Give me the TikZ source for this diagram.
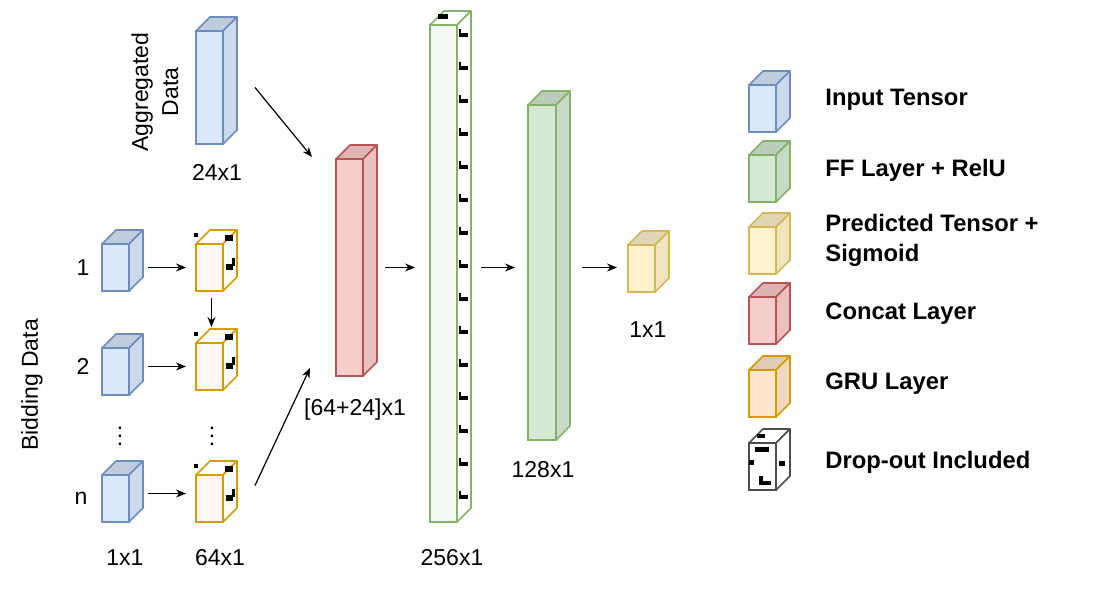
\documentclass[tikz,border=0pt]{standalone}
\usepackage{fontspec}
\setmainfont{Liberation Sans}
\usetikzlibrary{arrows.meta}
\definecolor{InBlue}{HTML}{DAE8FC}
\definecolor{InBlueLine}{HTML}{6C8EBF}
\definecolor{FFGreen}{HTML}{D5E8D4}
\definecolor{FFGreenLine}{HTML}{82B366}
\definecolor{PredYellow}{HTML}{FFF2CC}
\definecolor{PredYellowLine}{HTML}{D6B656}
\definecolor{CatRed}{HTML}{F8CECC}
\definecolor{CatRedLine}{HTML}{B85450}
\definecolor{GruOrange}{HTML}{FFE6CC}
\definecolor{GruOrangeLine}{HTML}{D79B00}
\definecolor{DropGray}{HTML}{4D4D4D}

% top and side faces of a cube drawn on the front face node
\newcommand{\cubefaces}[4]{%
  \draw[draw=#4, fill=#2, line width=0.8pt, line join=round]
    (#1.north west) -- ([shift={(14,-14)}]#1.north west) -- ([shift={(14,-14)}]#1.north east) -- (#1.north east) -- cycle;
  \draw[draw=#4, fill=#3, line width=0.8pt, line join=round]
    (#1.north east) -- ([shift={(14,-14)}]#1.north east) -- ([shift={(14,-14)}]#1.south east) -- (#1.south east) -- cycle;
}

\begin{document}
\begin{tikzpicture}[x=0.5pt, y=-0.5pt,
    font=\fontsize{11.5}{15}\selectfont,
    layer/.style={draw, line width=0.8pt, inner sep=0pt, outer sep=0pt, anchor=north west, minimum width=13.5pt},
    small/.style={layer, minimum height=23.5pt},
    inputT/.style={layer, draw=InBlueLine, fill=InBlue},
    ffT/.style={layer, draw=FFGreenLine, fill=FFGreen},
    predT/.style={layer, draw=PredYellowLine, fill=PredYellow},
    catT/.style={layer, draw=CatRedLine, fill=CatRed},
    gruT/.style={layer, draw=GruOrangeLine, fill=GruOrange},
    dropT/.style={layer, draw=DropGray, fill=white},
    lbl/.style={inner sep=1pt},
    legtext/.style={anchor=west, inner sep=0pt, font=\fontsize{11.9}{15}\selectfont\bfseries, align=left},
    conn/.style={-{Stealth[length=5pt, width=4pt]}, line width=0.6pt, black}
  ]
  \useasboundingbox (0,0) rectangle (1100,600);

  % Aggregated data
  \node[inputT, minimum height=56.5pt] (agg) at (196,31) {};
  \cubefaces{agg}{InBlue!88!black}{InBlue!94!black}{InBlueLine}
  \node[lbl] (aggtxt) at (155,92) [rotate=90, align=center] {Aggregated\\Data};
  \node[lbl] (agglbl) at (217,172) {24x1};

  % Bidding data inputs
  \node[inputT, small] (in1) at (102,244) {};
  \node[inputT, small] (in2) at (102,348) {};
  \node[inputT, small] (inn) at (102,475) {};
  \foreach \n in {in1,in2,inn} {
    \cubefaces{\n}{InBlue!88!black}{InBlue!94!black}{InBlueLine}
  }
  \node[lbl] (row1) at (83,268) {1};
  \node[lbl] (row2) at (83,366) {2};
  \node[lbl] (rown) at (81,498) {n};
  \node[lbl] (dotsin) at (120,430) {$\vdots$};
  \node[lbl] (bidtxt) at (32,385) [rotate=90] {Bidding Data};
  \node[lbl] (inlbl) at (125,558) {1x1};

  % GRU layer with drop-out
  \node[gruT, small, fill=GruOrange!30!white] (gru1) at (196,244) {};
  \node[gruT, small, fill=GruOrange!30!white] (gru2) at (196,343) {};
  \node[gruT, small, fill=GruOrange!30!white] (grun) at (196,475) {};
  \foreach \g in {gru1,gru2,grun} {
    \cubefaces{\g}{white}{white}{GruOrangeLine}
    \fill[black] ([shift={(-2,-7)}]\g.north west) rectangle ++(4,-4);
    \fill[black] ([shift={(2,-3)}]\g.north east) rectangle ++(8,-6);
    \fill[black] ([shift={(3,20)}]\g.north east) rectangle ++(7,6);
    \fill[black] ([shift={(9,14)}]\g.north east) rectangle ++(3,8);
  }
  \node[lbl] (dotsgru) at (212,430) {$\vdots$};
  \node[lbl] (grulbl) at (220,558) {64x1};

  % Concat layer
  \node[catT, minimum height=108.5pt] (concat) at (336,159) {};
  \cubefaces{concat}{CatRed!88!black}{CatRed!94!black}{CatRedLine}
  \node[lbl] (catlbl) at (355,410) {[64+24]x1};

  % FF layer 256 with drop-out
  \node[ffT, minimum height=248.5pt, fill=FFGreen!25!white] (ff256) at (430,25) {};
  \cubefaces{ff256}{white}{white}{FFGreenLine}
  \fill[black] ([shift={(8,-11)}]ff256.north west) rectangle ++(10,5);
  \foreach \k in {0,...,14} {
    \fill[black] ([shift={(2,12+33*\k)}]ff256.north east) rectangle ++(2,-8);
    \fill[black] ([shift={(2,12+33*\k)}]ff256.north east) rectangle ++(9,-4);
  }
  \node[lbl] (ff256lbl) at (452,558) {256x1};

  % FF layer 128
  \node[ffT, minimum height=167.5pt, minimum width=14pt] (ff128) at (528,105) {};
  \cubefaces{ff128}{FFGreen!88!black}{FFGreen!94!black}{FFGreenLine}
  \node[lbl] (ff128lbl) at (543,470) {128x1};

  % Output
  \node[predT, small] (out) at (628,245) {};
  \cubefaces{out}{PredYellow!88!black}{PredYellow!94!black}{PredYellowLine}
  \node[lbl] (outlbl) at (648,330) {1x1};

  % Connections
  \draw[conn] ([xshift=9.5pt]in1.east) -- ([xshift=-5pt]gru1.west);
  \draw[conn] ([shift={(19,-5)}]in2.east) -- ([shift={(-10,0)}]gru2.west);
  \draw[conn] ([shift={(19,-5)}]inn.east) -- ([shift={(-10,-5)}]grun.west);
  \draw[conn] ([shift={(2,7)}]gru1.south) -- ([shift={(2,-16)}]gru2.north);
  \draw[conn] ([xshift=16pt]agg.east) -- ([shift={(-24,-2)}]concat.north west);
  \draw[conn] ([shift={(32,-13)}]grun.east) -- ([shift={(-26,-8)}]concat.south west);
  \draw[conn] ([xshift=11pt]concat.east) -- ([shift={(-15,-6)}]ff256.west);
  \draw[conn] ([shift={(24,-6)}]ff256.east) -- ([shift={(-13,-5)}]ff128.west);
  \draw[conn] ([shift={(26,-5)}]ff128.east) -- ([shift={(-11,-1)}]out.west);

  % Legend
  \node[inputT, small] (leg1) at (749,85) {};
  \cubefaces{leg1}{InBlue!88!black}{InBlue!94!black}{InBlueLine}
  \node[ffT, small] (leg2) at (749,155) {};
  \cubefaces{leg2}{FFGreen!88!black}{FFGreen!94!black}{FFGreenLine}
  \node[predT, small] (leg3) at (749,227) {};
  \cubefaces{leg3}{PredYellow!88!black}{PredYellow!94!black}{PredYellowLine}
  \node[catT, small] (leg4) at (749,297) {};
  \cubefaces{leg4}{CatRed!88!black}{CatRed!94!black}{CatRedLine}
  \node[gruT, small] (leg5) at (749,370) {};
  \cubefaces{leg5}{GruOrange!88!black}{GruOrange!94!black}{GruOrangeLine}
  \node[dropT, small] (leg6) at (749,443) {};
  \cubefaces{leg6}{white}{white}{DropGray}
  \fill[black] ([shift={(6,4)}]leg6.north west) rectangle ++(14,5);
  \fill[black] ([shift={(0,17)}]leg6.north west) rectangle ++(5,5);
  \fill[black] ([shift={(10,33)}]leg6.north west) rectangle ++(4,9);
  \fill[black] ([shift={(10,38)}]leg6.north west) rectangle ++(12,4);
  \fill[black] ([shift={(3,18)}]leg6.north east) rectangle ++(6,5);
  \fill[black] ([shift={(8,-9)}]leg6.north west) rectangle ++(8,4);

  \node[legtext] (legtxt1) at (825,100) {Input Tensor};
  \node[legtext] (legtxt2) at (825,170) {FF Layer + RelU};
  \node[legtext] (legtxt3) at (825,240) {Predicted Tensor +\\Sigmoid};
  \node[legtext] (legtxt4) at (825,314) {Concat Layer};
  \node[legtext] (legtxt5) at (825,384) {GRU Layer};
  \node[legtext] (legtxt6) at (825,462) {Drop-out Included};
\end{tikzpicture}
\end{document}
